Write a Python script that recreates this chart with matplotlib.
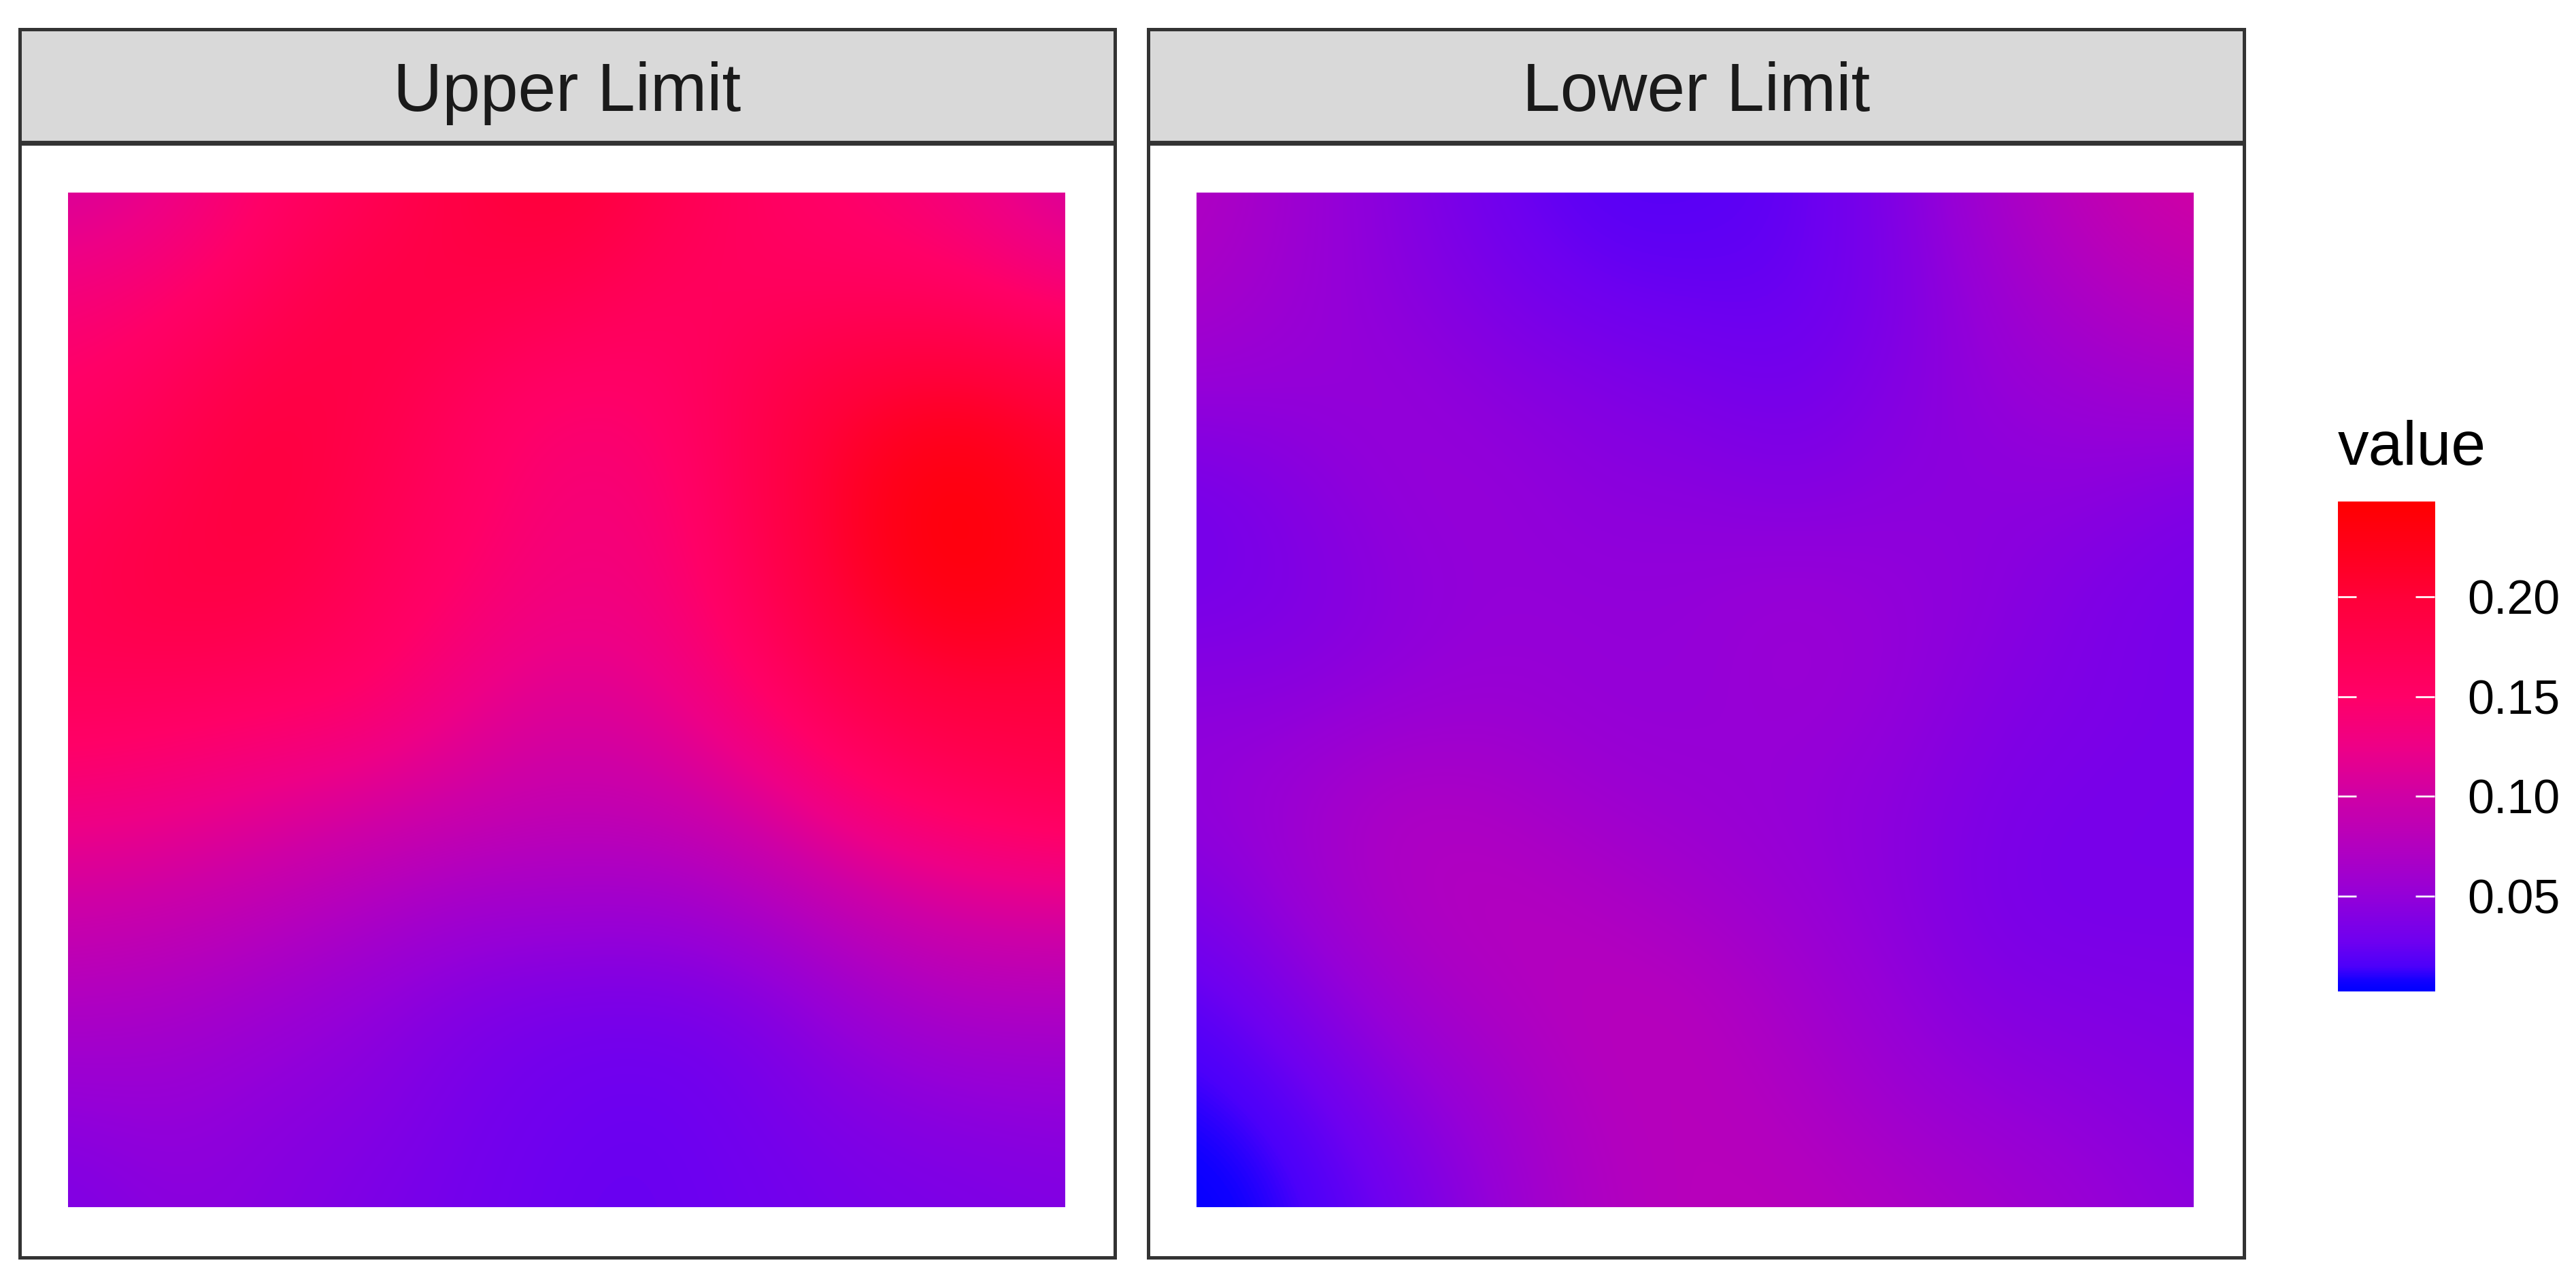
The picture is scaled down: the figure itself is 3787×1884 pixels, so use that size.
import matplotlib
matplotlib.use("Agg")
import matplotlib.pyplot as plt
from matplotlib.colors import LinearSegmentedColormap

W, H = 3787, 1884
DPI = 300
plt.rcParams["font.family"] = ["Liberation Sans", "DejaVu Sans"]

panel_titles = ["Upper Limit", "Lower Limit"]
legend_title = "value"
legend_ticks = [0.05, 0.10, 0.15, 0.20]
legend_labels = ["0.05", "0.10", "0.15", "0.20"]
value_min = 0.002
value_max = 0.248

# colours, position along the bar from the bottom
gradient_pos = [0, 0.02, 0.05, 0.10, 0.20, 0.30, 0.40, 0.50, 0.60, 0.70, 0.80, 0.90, 1]
gradient_col = ["#0000FF", "#1000FF", "#4C00FA", "#6E00F0", "#9600D7", "#B400BE", "#CF00A5",
                "#EE0086", "#FF0068", "#FF0050", "#FF003A", "#FF001C", "#FF0000"]

# values, top row first, left to right
upper = [
    [.105, .120, .150, .165, .190, .205, .175, .155, .145, .130, .105],
    [.135, .145, .165, .190, .185, .175, .160, .160, .160, .155, .135],
    [.150, .165, .190, .185, .160, .145, .150, .180, .205, .215, .195],
    [.165, .180, .200, .175, .155, .135, .140, .180, .225, .248, .215],
    [.175, .190, .185, .165, .145, .130, .135, .170, .215, .240, .220],
    [.165, .160, .155, .150, .125, .110, .120, .150, .180, .195, .195],
    [.135, .130, .120, .110, .100, .090, .095, .115, .145, .160, .170],
    [.100, .095, .085, .072, .060, .060, .058, .072, .095, .110, .115],
    [.072, .068, .058, .048, .038, .032, .032, .038, .058, .072, .072],
    [.048, .052, .045, .042, .032, .027, .025, .032, .040, .045, .048],
    [.035, .045, .042, .035, .030, .025, .025, .028, .033, .035, .038],
]
lower = [
    [.075, .057, .042, .027, .018, .018, .022, .037, .065, .088, .105],
    [.067, .055, .045, .035, .026, .024, .024, .035, .055, .072, .082],
    [.050, .050, .052, .045, .040, .035, .030, .040, .050, .055, .060],
    [.030, .040, .050, .052, .045, .045, .040, .045, .045, .045, .036],
    [.032, .036, .045, .050, .050, .050, .055, .050, .045, .036, .032],
    [.045, .045, .050, .055, .050, .050, .055, .050, .040, .036, .033],
    [.050, .058, .072, .068, .058, .054, .050, .045, .036, .033, .032],
    [.036, .054, .072, .078, .072, .063, .054, .045, .034, .032, .033],
    [.018, .036, .058, .072, .080, .078, .063, .050, .040, .038, .036],
    [.009, .018, .040, .058, .076, .080, .072, .058, .050, .045, .040],
    [.002, .011, .027, .050, .072, .080, .080, .072, .063, .054, .045],
]


def px_axes(left, top, right, bottom):
    return fig.add_axes([left / W, 1 - bottom / H, (right - left) / W, (bottom - top) / H])


fig = plt.figure(figsize=(W / DPI, H / DPI), dpi=DPI, facecolor="white")
cmap = LinearSegmentedColormap.from_list("bar", list(zip(gradient_pos, gradient_col)), N=512)
line_w = 5 * 72 / DPI

frames = [(29, 1638.5), (1688, 3299)]
images = [(100, 1566), (1759, 3225)]
for title, grid, (fl, fr), (il, ir) in zip(panel_titles, [upper, lower], frames, images):
    strip = px_axes(fl, 43.3, fr, 210.3)
    strip.set_facecolor("#D9D9D9")
    strip.set_xticks([])
    strip.set_yticks([])
    strip.text(0.5, 0.5, title, transform=strip.transAxes, ha="center", va="center_baseline",
               fontsize=24, color="#1A1A1A")

    box = px_axes(fl, 210.3, fr, 1848)
    box.set_xticks([])
    box.set_yticks([])

    ax = px_axes(il, 283, ir, 1774)
    im = ax.imshow(grid, cmap=cmap, vmin=value_min, vmax=value_max, interpolation="bicubic",
                   aspect="auto", extent=(-0.05, 1.05, -0.05, 1.05), origin="upper")
    ax.set_xlim(0, 1)
    ax.set_ylim(0, 1)
    ax.axis("off")

    for a in (strip, box):
        for s in a.spines.values():
            s.set_linewidth(line_w)
            s.set_color("#333333")
    # shared edge of strip and panel is drawn heavier in the original
    box.spines["top"].set_linewidth(7.2 * 72 / DPI)
    box.spines["top"].set_capstyle("butt")

# legend
cax = px_axes(3437, 737, 3580, 1457)
cb = fig.colorbar(im, cax=cax)
cb.outline.set_visible(False)
cb.set_ticks(legend_ticks, labels=legend_labels)
cax.tick_params(axis="y", length=0, pad=11.4, labelsize=16.8, labelcolor="black")
cax.hlines(legend_ticks, 0, 0.19, color="white", lw=0.65)
cax.hlines(legend_ticks, 0.8, 0.99, color="white", lw=0.65)
fig.text(3437 / W, 1 - 683 / H, legend_title, fontsize=21.9, color="black", ha="left", va="baseline")

fig.savefig("out.png", dpi=DPI)
